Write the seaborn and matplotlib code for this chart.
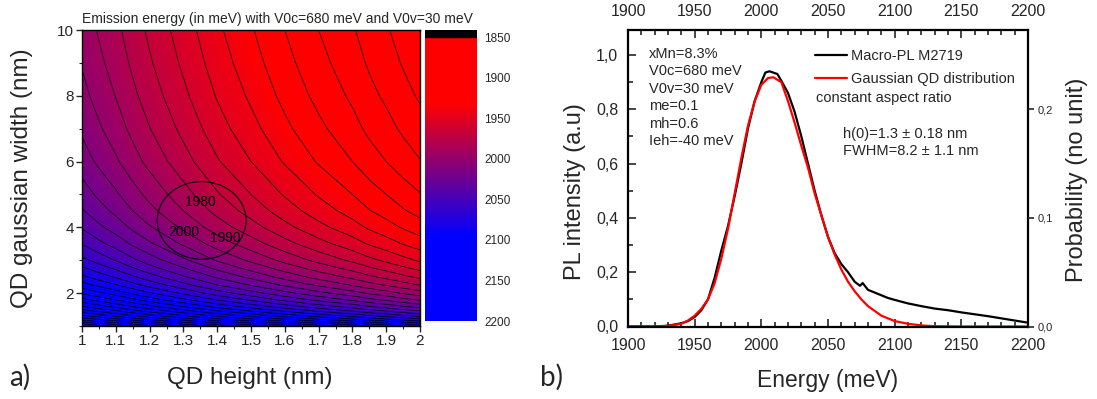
import numpy as np
import matplotlib
matplotlib.use("Agg")
import matplotlib.pyplot as plt
import seaborn as sns
from matplotlib.colors import LinearSegmentedColormap, Normalize
from matplotlib.patches import Ellipse
from matplotlib.ticker import MultipleLocator, FuncFormatter
from matplotlib.lines import Line2D

# ---------------- panel a) data ----------------
qd_height = [1.00, 1.05, 1.10, 1.15, 1.20, 1.25, 1.30, 1.35, 1.40, 1.45, 1.50,
             1.55, 1.60, 1.65, 1.70, 1.75, 1.80, 1.85, 1.90, 1.95, 2.00]
# emission energy along the top edge (width = 10 nm), meV
energy_top = [1996, 1989, 1982.5, 1975, 1968, 1961.5, 1955, 1948.5, 1942, 1936.5, 1931,
              1925.5, 1920, 1915, 1910, 1905.5, 1901, 1895.5, 1891, 1886, 1881.5]
qd_width = [1.0, 1.1, 1.2, 1.3, 1.4, 1.5, 1.6, 1.8, 2.0, 2.25, 2.5, 2.75, 3.0,
            3.5, 4.0, 4.5, 5.0, 6.0, 7.0, 8.0, 9.0, 10.0]
# extra energy from lateral confinement, meV
lateral_shift = [225, 207, 191, 177, 165, 154, 144, 127, 113, 98, 86, 76, 67,
                 53.5, 43, 35, 29, 19, 12.3, 7.2, 3.2, 0]
cbar_ticks = [1850, 1900, 1950, 2000, 2050, 2100, 2150, 2200]
contour_labels = ["1980", "2000", "1990"]
height_ticks = [1, 1.1, 1.2, 1.3, 1.4, 1.5, 1.6, 1.7, 1.8, 1.9, 2]
height_tick_labels = ["1", "1.1", "1.2", "1.3", "1.4", "1.5", "1.6", "1.7", "1.8", "1.9", "2"]

# ---------------- panel b) data ----------------
pl_energy = [1900, 1910, 1920, 1930, 1940, 1945, 1950, 1955, 1960, 1965, 1970, 1975,
             1980, 1985, 1990, 1995, 2000, 2003, 2006, 2009, 2012, 2015, 2020, 2025,
             2030, 2035, 2040, 2045, 2050, 2055, 2060, 2065, 2070, 2074, 2076, 2080,
             2085, 2090, 2095, 2100, 2110, 2120, 2130, 2140, 2150, 2160, 2170, 2180,
             2190, 2200]
pl_intensity = [0.0, 0.0, 0.0, 0.003, 0.012, 0.02, 0.035, 0.06, 0.10, 0.18, 0.28, 0.37,
                0.48, 0.60, 0.73, 0.83, 0.90, 0.935, 0.94, 0.935, 0.93, 0.905, 0.86, 0.79,
                0.70, 0.60, 0.50, 0.41, 0.33, 0.27, 0.23, 0.20, 0.165, 0.15, 0.16, 0.135,
                0.125, 0.115, 0.105, 0.098, 0.085, 0.075, 0.066, 0.060, 0.052, 0.045,
                0.038, 0.030, 0.022, 0.014]
fit_energy = [1900, 1920, 1930, 1940, 1945, 1950, 1955, 1960, 1965, 1970, 1975, 1980,
              1985, 1990, 1995, 2000, 2005, 2009, 2015, 2020, 2025, 2030, 2035, 2040,
              2045, 2050, 2055, 2060, 2065, 2070, 2075, 2080, 2090, 2100, 2110, 2120,
              2130, 2150, 2200]
fit_intensity = [0.0, 0.0, 0.002, 0.01, 0.022, 0.04, 0.065, 0.10, 0.16, 0.25, 0.36, 0.49,
                 0.62, 0.74, 0.83, 0.89, 0.915, 0.918, 0.90, 0.83, 0.75, 0.665, 0.585, 0.49,
                 0.41, 0.33, 0.265, 0.21, 0.165, 0.13, 0.10, 0.075, 0.04, 0.02, 0.01, 0.004,
                 0.001, 0.0, 0.0]
energy_ticks = [1900, 1950, 2000, 2050, 2100, 2150, 2200]
series_names = ["Macro-PL M2719", "Gaussian QD distribution"]
params_text = "xMn=8.3%\nV0c=680 meV\nV0v=30 meV\nme=0.1\nmh=0.6\nIeh=-40 meV"
fit_text = "h(0)=1.3 \u00b1 0.18 nm\nFWHM=8.2 \u00b1 1.1 nm"

# ---------------- style ----------------
sns.set_theme(style="ticks")
plt.rcParams["font.family"] = ["Liberation Sans", "DejaVu Sans"]
plt.rcParams["axes.linewidth"] = 1.0

W, H = 1097, 399
fig = plt.figure(figsize=(W / 100, H / 100), dpi=100)


def rect(x0, y0, x1, y1):
    return [x0 / W, 1 - y1 / H, (x1 - x0) / W, (y1 - y0) / H]


# ================= panel a =================
ax = fig.add_axes(rect(82, 30, 420, 326))
hh = np.array(qd_height)
ww = np.array(qd_width)
E = np.array(energy_top)[None, :] + np.array(lateral_shift)[:, None]

cmap = LinearSegmentedColormap.from_list(
    "rb", [(0, "#ff0000"), (0.23, "#ff0000"), (0.70, "#0000ff"), (1, "#0000ff")])
cmap.set_under("black")
cmap.set_over("#0000ff")
norm = Normalize(1850, 2200)
ax.contourf(hh, ww, E, levels=np.arange(1850, 2202, 2), cmap=cmap, norm=norm, extend="both")
ax.contour(hh, ww, E, levels=np.arange(1850, 2300, 10), colors="black", linewidths=0.5)

ax.add_patch(Ellipse((1.354, 4.21), 0.263, 2.36, fill=False, ec="black", lw=0.8))
for lab, (x, y) in zip(contour_labels, [(1.349, 4.77), (1.30, 3.87), (1.423, 3.67)]):
    ax.text(x, y, lab, ha="center", va="center", fontsize=10, color="black")

ax.set_xlim(1, 2)
ax.set_ylim(1, 10)
ax.set_xticks(height_ticks)
ax.set_xticklabels(height_tick_labels)
ax.xaxis.set_minor_locator(MultipleLocator(0.05))
ax.set_yticks([2, 4, 6, 8, 10])
ax.yaxis.set_minor_locator(MultipleLocator(1))
ax.tick_params(which="major", direction="out", length=4, width=1, labelsize=11, pad=2)
ax.tick_params(which="minor", direction="out", length=2.5, width=0.8)
for s in ax.spines.values():
    s.set_visible(True)
    s.set_color("black")

fig.text(82 / W, 1 - 19 / H, "Emission energy (in meV) with V0c=680 meV and V0v=30 meV",
         ha="left", va="center", fontsize=10)
fig.text(22 / W, 1 - 178 / H, "QD gaussian width (nm)", rotation=90,
         ha="center", va="center", fontsize=17.5)
fig.text(250 / W, 1 - 378 / H, "QD height (nm)", ha="center", va="center", fontsize=17.5)
fig.text(20 / W, 1 - 377 / H, "a)", ha="center", va="center", fontsize=20,
         family=["Lato", "DejaVu Sans"])

# colorbar (inverted, black "under" band at top)
cax = fig.add_axes(rect(425, 30, 477, 321))
cvals = np.linspace(1850, 2200, 351)
cax.pcolormesh([0, 1], cvals, ((cvals[:-1] + cvals[1:]) / 2)[:, None], cmap=cmap, norm=norm)
cax.axhspan(1841, 1850, color="black")
cax.set_ylim(2200, 1841)
cax.set_xlim(0, 1)
cax.set_xticks([])
cax.set_yticks(cbar_ticks)
cax.yaxis.tick_right()
cax.tick_params(axis="y", length=0, labelsize=8.5, pad=5)
for s in cax.spines.values():
    s.set_visible(False)

# ================= panel b =================
bx = fig.add_axes(rect(628, 30, 1028, 326.5))
sns.lineplot(x=pl_energy, y=pl_intensity, ax=bx, color="black", lw=1.6,
             estimator=None, sort=False)
sns.lineplot(x=fit_energy, y=fit_intensity, ax=bx, color="#ff0000", lw=1.6,
             estimator=None, sort=False)
ymax = 1.092
bx.set_xlim(1900, 2200)
bx.set_ylim(0, ymax)
bx.set_xticks(energy_ticks)
bx.xaxis.set_minor_locator(MultipleLocator(10))
bx.set_yticks([0, 0.2, 0.4, 0.6, 0.8, 1.0])
bx.yaxis.set_minor_locator(MultipleLocator(0.1))
bx.yaxis.set_major_formatter(FuncFormatter(lambda v, p: f"{v:.1f}".replace(".", ",")))
bx.tick_params(which="both", direction="in", top=True, right=True, labeltop=True,
               labelsize=11.5, width=1.2)
bx.tick_params(which="major", length=6)
bx.tick_params(which="minor", length=3.5)
bx.tick_params(axis="x", which="major", pad=8)
bx.tick_params(axis="y", which="major", pad=7)
for s in bx.spines.values():
    s.set_linewidth(1.6)
    s.set_color("black")

bx2 = bx.twinx()
bx2.set_ylim(0, ymax / 4)
bx2.set_yticks([0, 0.1, 0.2])
bx2.yaxis.set_major_formatter(FuncFormatter(lambda v, p: f"{v:.1f}".replace(".", ",")))
bx2.tick_params(direction="out", length=4, width=1.2, labelsize=8, pad=3)
for s in bx2.spines.values():
    s.set_visible(False)

handles = [Line2D([], [], color="black", lw=1.6), Line2D([], [], color="#ff0000", lw=1.6)]
bx.legend(handles, series_names, loc="upper left",
          bbox_to_anchor=((815 - 628) / 400, (326.5 - 49) / 296.5),
          frameon=False, fontsize=10.5, handlelength=2.2, handletextpad=0.3,
          labelspacing=0.6, borderpad=0, borderaxespad=0)
bx.text((816 - 628) / 400, (326.5 - 98) / 296.5, "constant aspect ratio",
        transform=bx.transAxes, ha="left", va="center", fontsize=10.5)
bx.text((649 - 628) / 400, (326.5 - 47) / 296.5, params_text, transform=bx.transAxes,
        ha="left", va="top", fontsize=10.5, linespacing=1.31)
bx.text((843 - 628) / 400, (326.5 - 127) / 296.5, fit_text, transform=bx.transAxes,
        ha="left", va="top", fontsize=10.5, linespacing=1.31)

fig.text(575 / W, 1 - 192 / H, "PL intensity (a.u)", rotation=90,
         ha="center", va="center", fontsize=17)
fig.text(1077 / W, 1 - 180 / H, "Probability (no unit)", rotation=90,
         ha="center", va="center", fontsize=17)
fig.text(828 / W, 1 - 380 / H, "Energy (meV)", ha="center", va="center", fontsize=16.5)
fig.text(551 / W, 1 - 377 / H, "b)", ha="center", va="center", fontsize=20,
         family=["Lato", "DejaVu Sans"])

fig.savefig("out.png", dpi=100)
